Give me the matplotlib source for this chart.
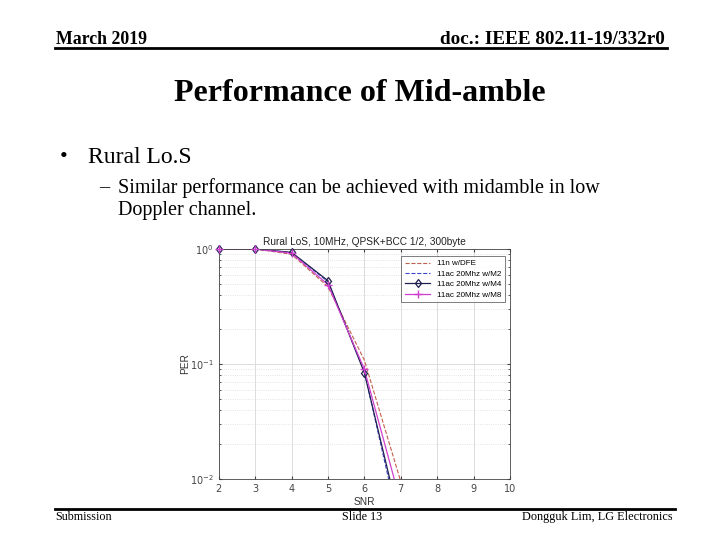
import matplotlib
matplotlib.use("Agg")
import matplotlib.pyplot as plt
from matplotlib.ticker import LogLocator, NullFormatter, FixedLocator

snr = [2, 3, 4, 5, 6, 7]
per_dfe = [1.0, 1.0, 0.90, 0.47, 0.108, 0.0095]
per_m2 = [1.0, 1.0, 0.93, 0.52, 0.086, 0.0034]
per_m4 = [1.0, 1.0, 0.935, 0.53, 0.084, 0.0040]
per_m8 = [1.0, 1.0, 0.92, 0.49, 0.090, 0.0062]
labels = ["11n w/DFE", "11ac 20Mhz w/M2", "11ac 20Mhz w/M4", "11ac 20Mhz w/M8"]
xticks = [2, 3, 4, 5, 6, 7, 8, 9, 10]

serif = ["Liberation Serif", "DejaVu Serif"]
sans = ["Liberation Sans", "DejaVu Sans"]

fig = plt.figure(figsize=(7.2, 5.4), dpi=100)
fig.patch.set_facecolor("white")

def px(x, y):
    return x / 720.0, 1 - y / 540.0

# Slide header
fig.text(*px(56, 40), "March 2019", family=serif, fontsize=12.8, fontweight="bold",
         ha="left", va="center")
fig.text(*px(665, 40), "doc.: IEEE 802.11-19/332r0", family=serif, fontsize=13.8,
         fontweight="bold", ha="right", va="center")
fig.add_artist(plt.Line2D([55/720, 667/720], [1-48/540, 1-48/540], color="black", lw=2))

fig.text(*px(360, 93), "Performance of Mid-amble", family=serif, fontsize=23,
         fontweight="bold", ha="center", va="center")

fig.text(*px(64, 158), "\u2022", family=serif, fontsize=16, ha="center", va="center")
fig.text(*px(88, 158), "Rural Lo.S", family=serif, fontsize=17, ha="left", va="center")
fig.text(*px(104, 188), "\u2013", family=serif, fontsize=14.5, ha="center", va="center")
fig.text(*px(118, 188), "Similar performance can be achieved with midamble in low",
         family=serif, fontsize=14.5, ha="left", va="center")
fig.text(*px(118, 211), "Doppler channel.", family=serif, fontsize=14.5,
         ha="left", va="center")

# Footer
fig.add_artist(plt.Line2D([55/720, 675/720], [1-509/540, 1-509/540], color="black", lw=2))
fig.text(*px(55, 517), "Submission", family=serif, fontsize=8.7, ha="left", va="center")
fig.text(*px(362, 517), "Slide 13", family=serif, fontsize=8.7, ha="center", va="center")
fig.text(*px(673, 517), "Dongguk Lim, LG Electronics", family=serif, fontsize=8.8,
         ha="right", va="center")

# Chart
ax = fig.add_axes([218.7/720, 1-479/540, (510-218.7)/720, (479-249)/540])
ymin = 1e-2
series = [
    (per_dfe, dict(color="#c0604a", lw=0.8, ls="--"), None),
    (per_m2, dict(color="#3a48c8", lw=0.8, ls="--"), None),
    (per_m4, dict(color="#202050", lw=0.9, ls="-"), dict(marker="d", ms=4.5, mfc="none", mec="#202050", mew=0.9)),
    (per_m8, dict(color="#d040d0", lw=0.9, ls="-"), dict(marker="+", ms=5.5, mec="#d040d0", mew=1.0)),
]
for (vals, lstyle, mstyle), lab in zip(series, labels):
    ax.plot(snr, vals, **lstyle)
    if mstyle:
        xs = [s for s, v in zip(snr, vals) if v >= ymin]
        ys = [v for v in vals if v >= ymin]
        ax.plot(xs, ys, ls="none", clip_on=False, zorder=4, **mstyle)
    ax.plot([], [], label=lab, **lstyle, **(mstyle or {}))

ax.set_yscale("log")
ax.set_xlim(2, 10)
ax.set_ylim(ymin, 1)
ax.xaxis.set_major_locator(FixedLocator(xticks))
ax.yaxis.set_major_locator(LogLocator(base=10, numticks=5))
ax.yaxis.set_minor_locator(LogLocator(base=10, subs=range(2, 10), numticks=20))
ax.yaxis.set_minor_formatter(NullFormatter())
ax.grid(True, which="major", color="#dcdcdc", lw=0.7)
ax.grid(True, which="minor", axis="y", color="#dcdcdc", lw=0.6, ls=":")
ax.tick_params(which="both", direction="in", top=True, right=True, labelsize=7,
               colors="#444444", length=2.5)
ax.tick_params(which="minor", length=1.5)
for sp in ax.spines.values():
    sp.set_color("#444444")
    sp.set_linewidth(0.6)
ax.set_title("Rural LoS, 10MHz, QPSK+BCC 1/2, 300byte", fontsize=7.3, family=sans,
             color="#222222", pad=3)
ax.set_xlabel("SNR", fontsize=7.3, family=sans, color="#333333", labelpad=2)
ax.set_ylabel("PER", fontsize=7.3, family=sans, color="#333333", labelpad=0)
leg = ax.legend(loc="upper right", fontsize=5.8, frameon=True, fancybox=False,
                edgecolor="#444444", borderpad=0.4, labelspacing=0.35,
                handlelength=3.2, bbox_to_anchor=(0.995, 0.985))
leg.get_frame().set_linewidth(0.6)
for t in leg.get_texts():
    t.set_family(sans)

fig.savefig("out.png", dpi=100, facecolor="white")
